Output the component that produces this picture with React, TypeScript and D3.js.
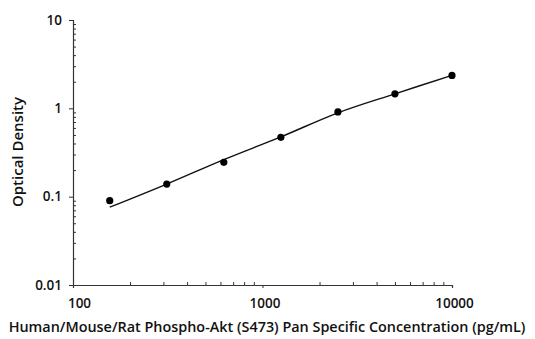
import React, { useEffect, useRef } from 'react';
import * as d3 from 'd3';

// standards (pg/mL) and measured optical density
const concentrations = [156.25, 312.5, 625, 1250, 2500, 5000, 10000];
const odValues = [0.09, 0.139, 0.245, 0.47, 0.91, 1.46, 2.36];
// fitted curve, at the same standards
const fitOd = [0.076, 0.139, 0.263, 0.475, 0.89, 1.46, 2.36];

const yTicks = [0.01, 0.1, 1, 10];
const xTicks = [100, 1000, 10000];

const xTitle = 'Human/Mouse/Rat Phospho-Akt (S473) Pan Specific Concentration (pg/mL)';
const yTitle = 'Optical Density';

function minorTicks(lo: number, hi: number) {
  const out: number[] = [];
  for (let d = lo; d < hi; d *= 10) {
    for (let k = 2; k <= 9; k++) out.push(d * k);
  }
  return out;
}

function StandardCurve() {
  const svgRef = useRef<SVGSVGElement>(null);

  useEffect(() => {
    const svg = d3.select(svgRef.current);
    svg.selectAll('*').remove();

    const x = d3.scaleLog().domain([100, 10000]).range([73, 452]);
    const y = d3.scaleLog().domain([0.01, 10]).range([285, 20]);
    const font = '"Open Sans", "DejaVu Sans", sans-serif';
    const axisColor = '#333';

    // y axis: major ticks outward, minor ticks inward
    const yAxis = svg.append('g').attr('transform', 'translate(73,0)');
    yAxis.call(d3.axisLeft(y).tickValues(yTicks).tickSize(4).tickFormat(d => String(d)));
    yAxis.append('g').call(d3.axisLeft(y).tickValues(minorTicks(0.01, 10)).tickSize(-3).tickFormat(() => ''))
      .select('.domain').remove();

    const xAxis = svg.append('g').attr('transform', 'translate(0,285)');
    xAxis.call(d3.axisBottom(x).tickValues(xTicks).tickSize(3).tickPadding(10).tickFormat(d => String(d)));
    xAxis.append('g').call(d3.axisBottom(x).tickValues(minorTicks(100, 10000)).tickSize(-3).tickFormat(() => ''))
      .select('.domain').remove();

    svg.selectAll('.domain').attr('stroke', axisColor).attr('stroke-width', 1.2);
    svg.selectAll('.tick line').attr('stroke', axisColor);
    svg.selectAll('.tick text')
      .attr('fill', '#111')
      .attr('font-family', font)
      .attr('font-weight', 600)
      .attr('font-size', 13.5);
    yAxis.selectAll('.tick text').attr('x', -11);
    xAxis.selectAll('.tick text').attr('dx', (_, i) => (i === 0 ? 6 : 2));

    const line = d3.line<number>()
      .x((_, i) => x(concentrations[i]))
      .y(d => y(d))
      .curve(d3.curveCatmullRom);

    svg.append('path')
      .datum(fitOd)
      .attr('fill', 'none')
      .attr('stroke', '#111')
      .attr('stroke-width', 1.4)
      .attr('d', line);

    svg.append('g')
      .selectAll('circle')
      .data(odValues)
      .join('circle')
      .attr('cx', (_, i) => x(concentrations[i]))
      .attr('cy', d => y(d))
      .attr('r', 3.6)
      .attr('fill', '#000');

    svg.append('text')
      .attr('transform', 'translate(23,152) rotate(-90)')
      .attr('text-anchor', 'middle')
      .attr('font-family', font)
      .attr('font-weight', 600)
      .attr('font-size', 15)
      .attr('fill', '#111')
      .text(yTitle);

    svg.append('text')
      .attr('x', 267)
      .attr('y', 332)
      .attr('text-anchor', 'middle')
      .attr('font-family', font)
      .attr('font-weight', 600)
      .attr('font-size', 14.4)
      .attr('fill', '#111')
      .text(xTitle);
  }, []);

  return (
    <svg
      ref={svgRef}
      width={535}
      height={339}
      style={{ position: 'fixed', left: 0, top: 0, background: '#fff' }}
    />
  );
}

export default function App() {
  return <StandardCurve />;
}
